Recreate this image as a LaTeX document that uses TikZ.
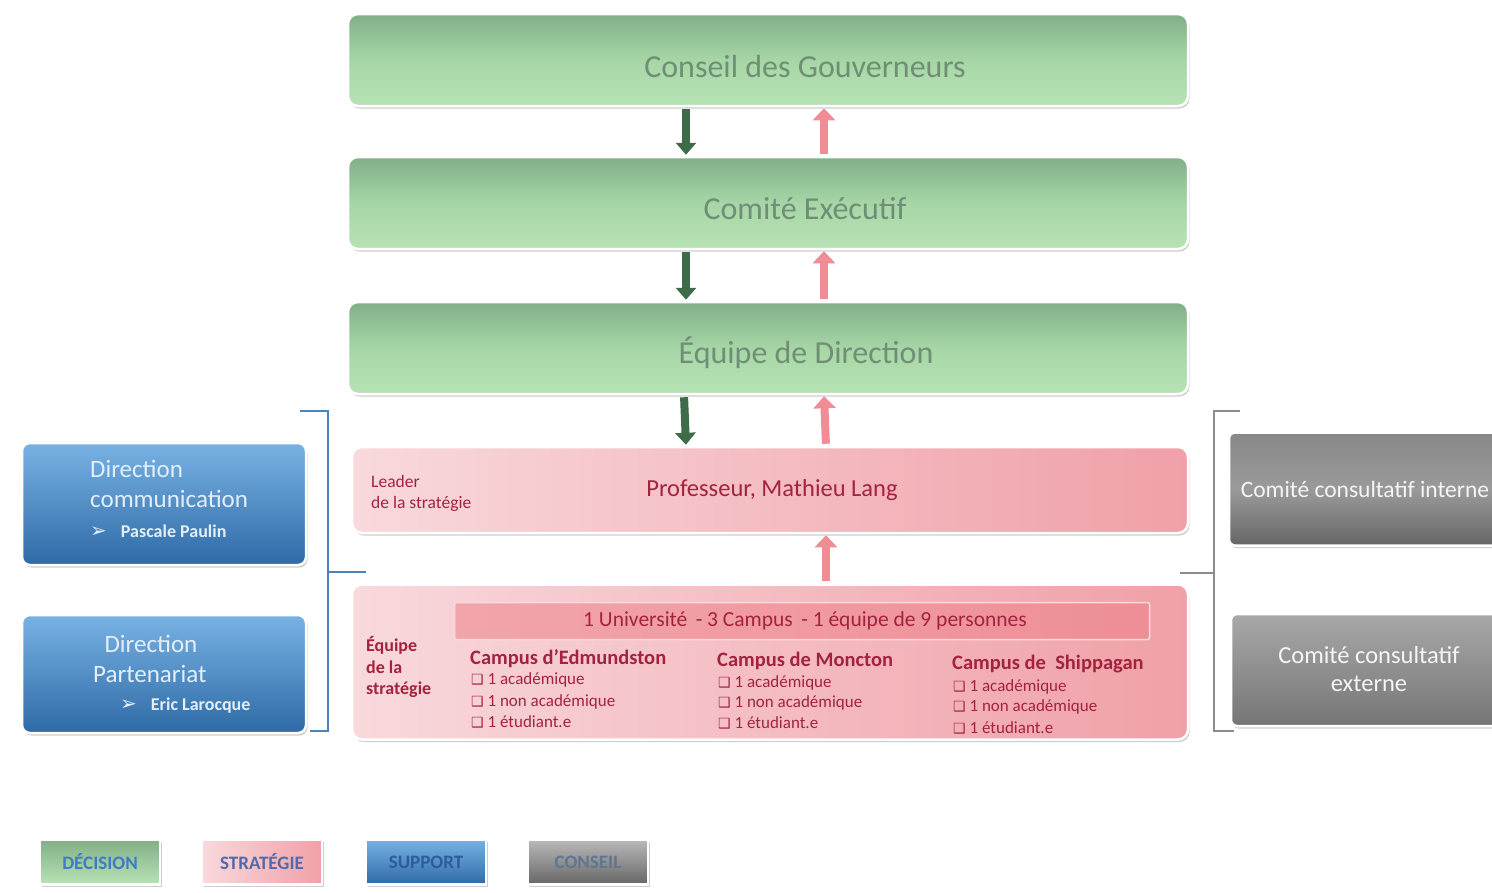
\documentclass[tikz,border=0pt]{standalone}
\usepackage{fontspec}
\setmainfont{Carlito}
\newfontfamily\sym{DejaVu Sans}
\usetikzlibrary{shadows,arrows.meta}
\definecolor{gA}{HTML}{82AE88}
\definecolor{gB}{HTML}{A6D6A6}
\definecolor{gC}{HTML}{B8E3B5}
\definecolor{gtext}{HTML}{6F8E75}
\definecolor{pA}{HTML}{F8D9DC}
\definecolor{pB}{HTML}{F0A0A8}
\definecolor{pbar}{HTML}{EE8E96}
\definecolor{ptext}{HTML}{A3233F}
\definecolor{bA}{HTML}{78B2E4}
\definecolor{bB}{HTML}{2E6AA6}
\definecolor{btext}{HTML}{E3EEF9}
\definecolor{kA}{HTML}{888888}
\definecolor{kB}{HTML}{666666}
\definecolor{kC}{HTML}{A8A8A8}
\definecolor{darrc}{HTML}{3E6B48}
\definecolor{uarrc}{HTML}{F08C94}
\definecolor{brblue}{HTML}{4F81BD}
\definecolor{brgray}{HTML}{8C8C8C}
\definecolor{lgblue}{HTML}{3C7CC6}
\definecolor{lgdark}{HTML}{2D5C9C}
\definecolor{lggray}{HTML}{5E7690}
\tikzset{
  shad/.style={drop shadow={shadow xshift=1.5pt,shadow yshift=-2.5pt,opacity=0.35,fill=black!55}},
  gbox/.style={rounded corners=10pt,draw=white,line width=2.5pt,top color=gA,bottom color=gC,middle color=gB,shad,
    minimum width=840pt,minimum height=92pt},
  gtxt/.style={text=gtext,font=\fontsize{32}{34}\selectfont,inner sep=0pt},
  pbox/.style={rounded corners=10pt,draw=white,line width=2.5pt,left color=pA,right color=pB,shad,minimum width=836pt},
  bbox/.style={rounded corners=8pt,draw=white,line width=2.5pt,top color=bA,bottom color=bB,shad,minimum width=284pt},
  kbox/.style={rounded corners=6pt,draw=white,line width=2.5pt,shad,minimum width=276pt},
  lbox/.style={draw=white,line width=2.5pt,shad,minimum width=120pt,minimum height=45pt,font=\bfseries\fontsize{19}{20}\selectfont},
  darr/.style={draw=darrc,line width=8pt,-{Triangle[width=20pt,length=12pt]},shorten <=2pt,shorten >=1pt},
  uarr/.style={draw=uarrc,line width=8pt,-{Triangle[width=22pt,length=12pt]},shorten <=2pt,shorten >=1pt},
  ptxt/.style={text=ptext,anchor=west,inner sep=0pt},
  itm/.style={text=ptext,anchor=west,inner sep=0pt,font=\fontsize{17}{18}\selectfont},
  wtxt/.style={text=btext,anchor=west,inner sep=0pt},
}
\newcommand{\cbx}{{\sym\fontsize{14}{15}\selectfont ❑}\ }
\newcommand{\parr}{{\sym\fontsize{20}{20}\selectfont ➢}}
\begin{document}
\begin{tikzpicture}[x=1pt,y=-1pt]
\useasboundingbox[fill=white] (0,0) rectangle (1492,892);

% brackets
\draw[brblue,line width=2pt] (300,411) -- (328,411) -- (328,731) -- (310,731);
\coordinate (lbm) at (328,572);
\draw[brblue,line width=2pt] (lbm) -- (366,572);
\draw[brgray,line width=2pt] (1240,411) -- (1214,411) -- (1214,731) -- (1234,731);
\coordinate (rbm) at (1214,573);
\draw[brgray,line width=2pt] (rbm) -- (1180,573);

% green boxes
\node[gbox] (cg) at (768,60) {};
\node[gtxt] (cgt) at (805,67) {Conseil des Gouverneurs};
\node[gbox] (ce) at (768,203) {};
\node[gtxt] (cet) at (805,209) {Comité Exécutif};
\node[gbox] (ed) at (768,348) {};
\node[gtxt] (edt) at (806,353) {Équipe de Direction};

% pink boxes
\node[pbox,minimum height=86pt] (ld) at (770,490) {};
\node[text=ptext,font=\fontsize{24.5}{26}\selectfont] (prof) at (772,490) {Professeur, Mathieu Lang};
\node[ptxt,font=\fontsize{17.5}{18}\selectfont] (lead1) at (371,481) {Leader};
\node[ptxt,font=\fontsize{17.5}{18}\selectfont] (lead2) at (371,504) {de la stratégie};

\node[pbox,minimum height=155pt] (eq) at (770,662) {};
\node[rounded corners=2pt,draw=pA,line width=1.5pt,left color=pbar!80!white,right color=pbar,minimum width=695pt,minimum height=37pt] (bar) at (802,621) {};
\node[text=ptext,font=\fontsize{21.5}{23}\selectfont] (bart) at (805,621) {1 Université\, - 3 Campus\, - 1 équipe de 9 personnes};
\node[ptxt,font=\bfseries\fontsize{18}{19}\selectfont] (eq1) at (366,645) {Équipe};
\node[ptxt,font=\bfseries\fontsize{18}{19}\selectfont] (eq2) at (366,667) {de la};
\node[ptxt,font=\bfseries\fontsize{18}{19}\selectfont] (eq3) at (366,690) {stratégie};

\node[ptxt,font=\bfseries\fontsize{20.5}{21}\selectfont] (ced) at (470,659) {Campus d’Edmundston};
\node[itm] (ed1) at (471,680) {\cbx 1 académique};
\node[itm] (ed2) at (471,702) {\cbx 1 non académique};
\node[itm] (ed3) at (471,722) {\cbx 1 étudiant.e};

\node[ptxt,font=\bfseries\fontsize{20.5}{21}\selectfont] (cmo) at (717,661) {Campus de Moncton};
\node[itm] (mo1) at (718,683) {\cbx 1 académique};
\node[itm] (mo2) at (718,703) {\cbx 1 non académique};
\node[itm] (mo3) at (718,723) {\cbx 1 étudiant.e};

\node[ptxt,font=\bfseries\fontsize{20.5}{21}\selectfont] (csh) at (952,664) {Campus de\ \ Shippagan};
\node[itm] (sh1) at (953,687) {\cbx 1 académique};
\node[itm] (sh2) at (953,707) {\cbx 1 non académique};
\node[itm] (sh3) at (953,728) {\cbx 1 étudiant.e};

% blue boxes
\node[bbox,minimum height=122pt] (dc) at (164,504) {};
\node[wtxt,font=\fontsize{25}{26}\selectfont] (dc1) at (90,469) {Direction};
\node[wtxt,font=\fontsize{25}{26}\selectfont] (dc2) at (90,499) {communication};
\node[wtxt,font=\bfseries\fontsize{18}{19}\selectfont] (dc3) at (90,531) {\parr\hspace{14pt}Pascale Paulin};

\node[bbox,minimum height=118pt] (dp) at (164,674) {};
\node[text=btext,font=\fontsize{25}{26}\selectfont,inner sep=0pt] (dp1) at (151,644) {Direction};
\node[wtxt,font=\fontsize{25}{26}\selectfont] (dp2) at (93,674) {Partenariat};
\node[wtxt,font=\bfseries\fontsize{18}{19}\selectfont] (dp3) at (120,706) {\parr\hspace{14pt}Eric Larocque};

% gray boxes
\node[kbox,minimum height=113pt,top color=kA,bottom color=kB,middle color=kA!85!white] (ci) at (1367,489) {};
\node[text=white!92!gray,font=\fontsize{23.5}{25}\selectfont,inner sep=0pt] (cit) at (1365,489) {Comité consultatif interne};
\node[kbox,minimum height=112pt,top color=kC,bottom color=kB!90!white] (cx) at (1369,670) {};
\node[text=white!92!gray,font=\fontsize{24.5}{28}\selectfont,align=center] (cxt) at (1369,669) {Comité consultatif\\externe};

% arrows
\draw[darr] ([xshift=-82pt]cg.south) -- ([xshift=-82pt]ce.north);
\draw[uarr] ([xshift=56pt]ce.north) -- ([xshift=56pt]cg.south);
\draw[darr] ([xshift=-82pt]ce.south) -- ([xshift=-82pt]ed.north);
\draw[uarr] ([xshift=56pt]ed.north) -- ([xshift=56pt]ce.south);
\draw[darr] ([xshift=-84pt]ed.south) -- ([xshift=-84pt]ld.north);
\draw[uarr] ([xshift=56pt]ld.north) -- ([xshift=56pt]ed.south);
\draw[uarr] ([xshift=56pt]eq.north) -- ([xshift=56pt]ld.south);

% legend
\node[lbox,top color=gA,bottom color=gC,text=lgblue] (lg1) at (100,862) {DÉCISION};
\node[lbox,left color=pA,right color=pB,text=lgblue!80!ptext] (lg2) at (262,862) {STRATÉGIE};
\node[lbox,top color=bA,bottom color=bB,text=lgdark] (lg3) at (426,862) {SUPPORT};
\node[lbox,top color=kC!80!white,bottom color=kB,text=lggray] (lg4) at (588,862) {CONSEIL};
\end{tikzpicture}
\end{document}
